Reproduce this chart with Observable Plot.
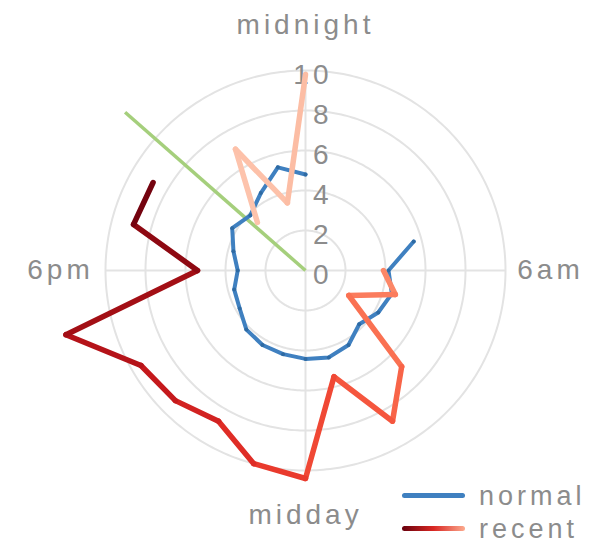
<!DOCTYPE html>
<html><head><meta charset="utf-8">
<script src="https://cdn.jsdelivr.net/npm/d3@7"></script>
<script src="https://cdn.jsdelivr.net/npm/@observablehq/plot@0.6"></script>
<style>
body{margin:0;background:#fff;}
#wrap{position:relative;width:600px;height:544px;font-family:"Liberation Sans",Arial,sans-serif;}
.chart text{letter-spacing:4px;}
#legend{position:absolute;left:402px;top:479px;color:#8c8c8c;font-size:27px;letter-spacing:4px;line-height:32px;}
#legend .row{display:flex;align-items:center;height:33px;}
#legend .sw{width:63px;height:5px;border-radius:2.5px;margin-right:14px;}
</style></head><body><div id="wrap"></div>
<script>
// data
const normalHours = [5,6,7,8,9,10,11,12,13,14,15,16,17,18,19,20,21,22,23,24];
const normalValues = [5.6,4.15,4.47,4.2,3.8,4.3,4.5,4.42,4.33,4.3,4.18,3.8,3.69,3.39,3.73,4.23,3.9,4.47,5.34,4.8];
const recentHours = [21,22,23,0,1,2,3,4,5,6,7,8,9,10,11,12,13,14,15,16,17,18,19,20];
const recentValues = [3.4,7.0,3.5,9.8,null,null,null,null,null,3.9,4.65,2.5,6.8,8.7,5.5,10.4,10.0,8.7,9.2,9.5,12.4,5.4,8.9,8.8];
const ringValues = [2,4,6,8,10];
const tickValues = [0,2,4,6,8,10];
const axisHours = [0,6,12,18];
const axisLabels = ["midnight","6am","midday","6pm"];
const nowHour = 20.75;
const nowLength = 12;
const seriesNames = ["normal","recent"];

// polar helpers: hour -> longitude, value -> latitude (tiny cap near pole => flat)
const K = 0.01;
const lon = h => 180 - h * 15;
const lat = v => 90 - v * K;

const normal = normalHours.map((h, i) => ({h, v: normalValues[i]}));
const segs = [];
for (let i = 0; i < recentHours.length - 1; i++) {
  if (recentValues[i] != null && recentValues[i + 1] != null)
    segs.push({h1: recentHours[i], v1: recentValues[i], h2: recentHours[i + 1], v2: recentValues[i + 1], t: i + 0.5});
}
const gray = "#8c8c8c";
const grid = "#e3e3e3";

const chart = Plot.plot({
  className: "chart",
  width: 600, height: 544,
  marginLeft: 105, marginRight: 95, marginTop: 70, marginBottom: 74,
  style: {fontFamily: "'Liberation Sans', Arial, sans-serif", background: "#fff"},
  projection: {
    type: "azimuthal-equidistant",
    rotate: [0, -90],
    domain: d3.geoCircle().center([0, 90]).radius(10 * K)(),
    clip: false
  },
  color: {type: "pow", exponent: 1.6, domain: [0, recentHours.length - 1], interpolate: t => d3.interpolateReds(0.22 + 0.78 * t)},
  marks: [
    Plot.geo(ringValues, {geometry: r => d3.geoCircle().center([0, 90]).radius(r * K).precision(1)(), stroke: grid, strokeWidth: 2, fill: "none"}),
    Plot.link(axisHours, {x1: h => lon(h), y1: lat(10), x2: 0, y2: 90, stroke: grid, strokeWidth: 2}),
    Plot.text(tickValues, {x: lon(0), y: d => lat(d), text: d => String(d), textAnchor: "end", dx: 27, dy: 5, fontSize: 28, fill: gray}),
    Plot.text(axisHours, {x: h => lon(h), y: lat(12.25), text: (h, i) => axisLabels[i], fontSize: 28, fill: gray}),
    Plot.link([nowHour], {x1: h => lon(h), y1: lat(nowLength), x2: 0, y2: 90, stroke: "#a5cf7c", strokeWidth: 3.5}),
    Plot.line(normal, {x: d => lon(d.h), y: d => lat(d.v), stroke: "#3f80c0", strokeWidth: 4, strokeLinejoin: "round"}),
    Plot.dot(normal, {x: d => lon(d.h), y: d => lat(d.v), r: 2, fill: "#2e6aa3"}),
    Plot.link(segs, {x1: d => lon(d.h1), y1: d => lat(d.v1), x2: d => lon(d.h2), y2: d => lat(d.v2), stroke: "t", strokeWidth: 5.5, strokeLinecap: "round"})
  ]
});
const wrap = document.getElementById("wrap");
wrap.appendChild(chart);
const legend = document.createElement("div");
legend.id = "legend";
legend.innerHTML =
  `<div class="row"><div class="sw" style="background:#3f80c0"></div><span>${seriesNames[0]}</span></div>` +
  `<div class="row"><div class="sw" style="background:linear-gradient(to right,${d3.interpolateReds(1)},${d3.interpolateReds(0.7)},${d3.interpolateReds(0.3)})"></div><span>${seriesNames[1]}</span></div>`;
wrap.appendChild(legend);
</script></body></html>
